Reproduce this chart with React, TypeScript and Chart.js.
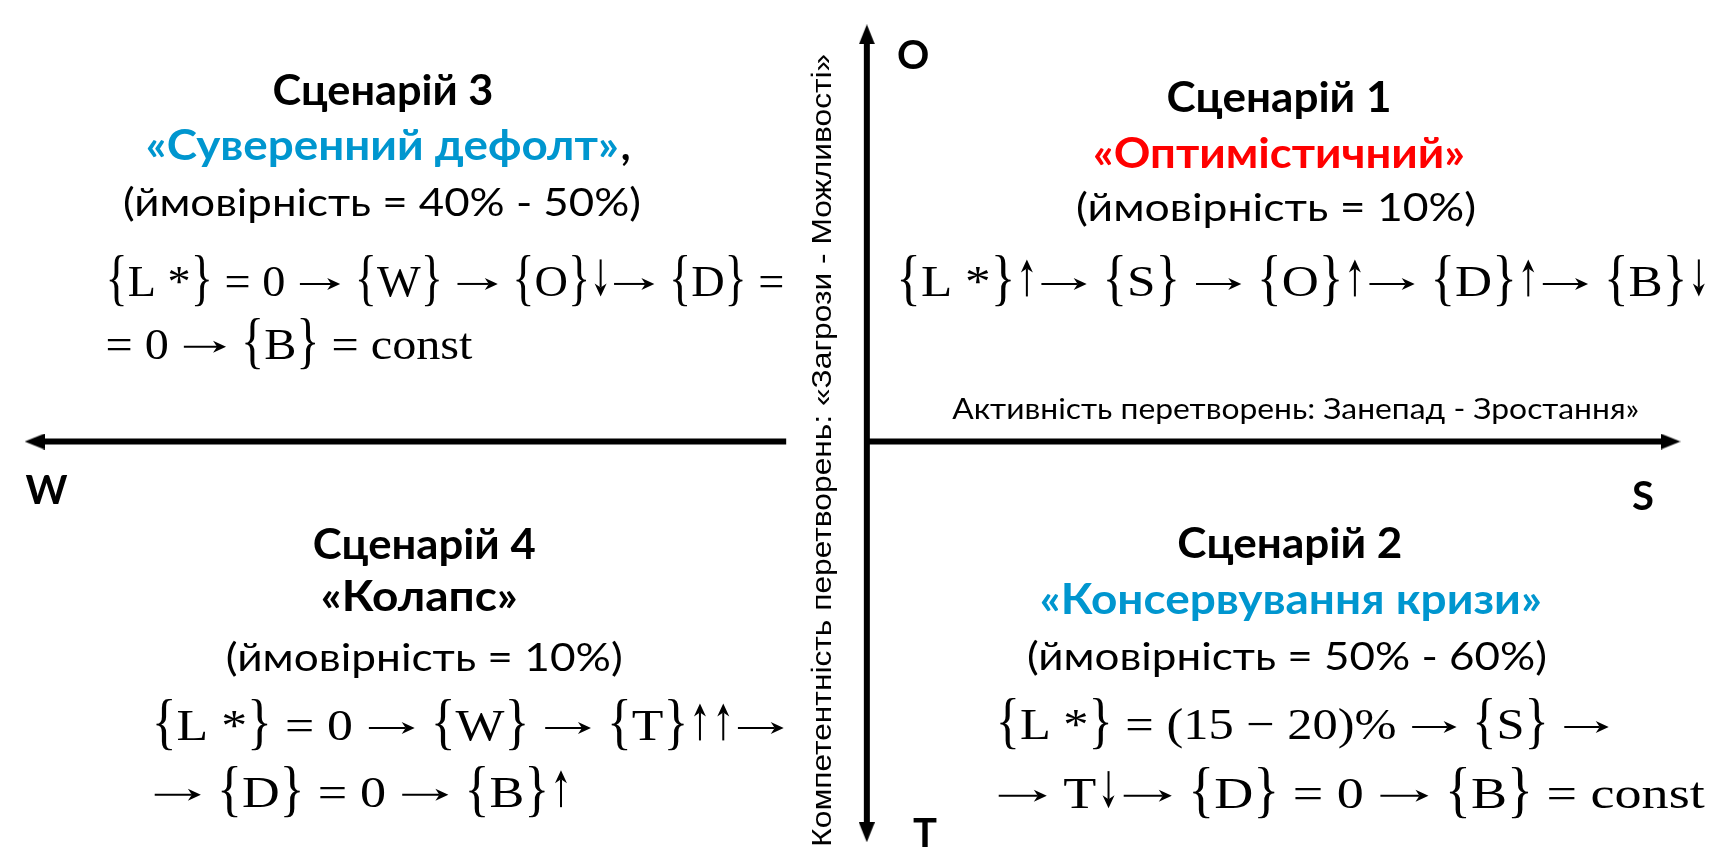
import React, { useEffect, useRef } from "react";
import { Chart, registerables } from "chart.js";

Chart.register(...registerables);

const W = 1716;
const H = 856;

// ---------- content ----------
const scenarioTitles = ["Сценарій 1", "Сценарій 2", "Сценарій 3", "Сценарій 4"];
const scenarioNames = ["«Оптимістичний»", "«Консервування кризи»", "«Суверенний дефолт»", "«Колапс»"];
const scenarioNameSuffix = ["", "", ",", ""];
const scenarioProbabilities = [
  "(ймовірність = 10%)",
  "(ймовірність = 50% - 60%)",
  "(ймовірність = 40% - 50%)",
  "(ймовірність = 10%)",
];
const scenarioFormulas = [
  ["{L *}↑→ {S} → {O}↑→ {D}↑→ {B}↓"],
  ["{L *} = (15 − 20)% → {S} →", "→ T↓→ {D} = 0 → {B} = const"],
  ["{L *} = 0 → {W} → {O}↓→ {D} =", "= 0 → {B} = const"],
  ["{L *} = 0 → {W} → {T}↑↑→", "→ {D} = 0 → {B}↑"],
];
const poleLabels = ["O", "S", "T", "W"];
const xAxisTitle = "Активність перетворень: Занепад - Зростання»";
const yAxisTitle = "Компетентність перетворень: «Загрози - Можливості»";

// ---------- styles ----------
const nameColors = ["#FF0000", "#0096CF", "#0096CF", "#000000"];
const SANS = 'Lato, "Open Sans", "Noto Sans", sans-serif';
const SERIF = '"Liberation Serif", "Times New Roman", serif';
const NARROW = '"Liberation Sans Narrow", "Liberation Sans", Arial, sans-serif';

// ---------- layout (diagram units = px) ----------
const axisSegments = [
  { pts: [[785, 442], [21, 442]], heads: [false, true], rot: [0, -90] },
  { pts: [[866, 442], [1684, 442]], heads: [false, true], rot: [0, 90] },
  { pts: [[867, 21], [867, 846]], heads: [true, true], rot: [0, 180] },
];
const blockLayout = [
  {
    title: { x: 1286, y: 85, w: 225 },
    name: { x: 1286, y: 143, w: 372, align: "center" },
    prob: { x: 1283, y: 200, w: 400 },
    f: [{ x: 897, y: 277, w: 814 }],
  },
  {
    title: { x: 1297, y: 546, w: 225 },
    name: { x: 1298, y: 604, w: 502, align: "center" },
    prob: { x: 1294, y: 664, w: 520 },
    f: [
      { x: 998, y: 735, w: 616 },
      { x: 998, y: 806, w: 709 },
    ],
  },
  {
    title: { x: 375, y: 78, w: 221 },
    name: { x: 134, y: 135, w: 473, align: "left" },
    prob: { x: 374, y: 194, w: 518 },
    f: [
      { x: 93, y: 277, w: 679 },
      { x: 93, y: 342, w: 367 },
    ],
  },
  {
    title: { x: 417, y: 547, w: 223 },
    name: { x: 412, y: 601, w: 197, align: "center" },
    prob: { x: 417, y: 665, w: 397 },
    f: [
      { x: 140, y: 736, w: 635 },
      { x: 140, y: 805, w: 421 },
    ],
  },
];
const polePos = [
  [914, 42],
  [1656, 498],
  [926, 846],
  [33, 492],
];
const xTitlePos = { x: 1303, y: 408, w: 687 };
const yTitlePos = { x: 821, y: 451, w: 793 };

function makeHead(): HTMLCanvasElement {
  const c = document.createElement("canvas");
  c.width = 16;
  c.height = 20;
  const g = c.getContext("2d")!;
  g.fillStyle = "#000";
  g.beginPath();
  g.moveTo(8, 0);
  g.lineTo(16, 20);
  g.lineTo(0, 20);
  g.closePath();
  g.fill();
  return c;
}

function drawFitted(
  ctx: CanvasRenderingContext2D,
  text: string,
  ax: number,
  cy: number,
  width: number,
  font: string,
  color: string,
  align: string
) {
  ctx.save();
  ctx.font = font;
  ctx.fillStyle = color;
  ctx.textAlign = "left";
  ctx.textBaseline = "alphabetic";
  const m = ctx.measureText(text);
  const cap = ctx.measureText("Н").actualBoundingBoxAscent;
  const sx = width / m.width;
  const left = align === "center" ? ax - width / 2 : ax;
  ctx.translate(left, cy + cap / 2);
  ctx.scale(sx, 1);
  ctx.fillText(text, 0, 0);
  ctx.restore();
  return left + width;
}

const isBrace = (c: string) => c === "{" || c === "}";
const isArrow = (c: string) => c === "→" || c === "↑" || c === "↓";

// thin math-style arrow from (x0,y0) to tip (x1,y1)
function mathArrow(ctx: CanvasRenderingContext2D, x0: number, y0: number, x1: number, y1: number) {
  const ang = Math.atan2(y1 - y0, x1 - x0);
  const len = 13;
  const half = 6;
  const notch = 4;
  const cos = Math.cos(ang);
  const sin = Math.sin(ang);
  ctx.save();
  ctx.strokeStyle = "#000";
  ctx.fillStyle = "#000";
  ctx.lineWidth = 2;
  ctx.beginPath();
  ctx.moveTo(x0, y0);
  ctx.lineTo(x1 - cos * (len - notch), y1 - sin * (len - notch));
  ctx.stroke();
  const bx = x1 - cos * len;
  const by = y1 - sin * len;
  ctx.beginPath();
  ctx.moveTo(x1, y1);
  ctx.lineTo(bx - sin * half, by + cos * half);
  ctx.lineTo(x1 - cos * (len - notch), y1 - sin * (len - notch));
  ctx.lineTo(bx + sin * half, by - cos * half);
  ctx.closePath();
  ctx.fill();
  ctx.restore();
}

function drawFormula(
  ctx: CanvasRenderingContext2D,
  text: string,
  left: number,
  cy: number,
  width: number,
  size: number
) {
  ctx.save();
  const serifFont = `${size}px ${SERIF}`;
  ctx.font = serifFont;
  ctx.fillStyle = "#000";
  ctx.textAlign = "left";
  ctx.textBaseline = "alphabetic";
  const tokens: string[] = [];
  let cur = "";
  for (const ch of text) {
    if (isBrace(ch) || isArrow(ch)) {
      if (cur) tokens.push(cur);
      tokens.push(ch);
      cur = "";
    } else cur += ch;
  }
  if (cur) tokens.push(cur);
  const widths = tokens.map((t) => {
    if (t === "→") return size * 1.0;
    if (t === "↑" || t === "↓") return size * 0.45;
    return ctx.measureText(t).width;
  });
  const total = widths.reduce((a, b) => a + b, 0);
  const sx = width / total;
  const cap = ctx.measureText("L").actualBoundingBoxAscent;
  const bm = ctx.measureText("{");
  const bAsc = bm.actualBoundingBoxAscent;
  const bDesc = bm.actualBoundingBoxDescent;
  const k = (1.8 * cap) / (bAsc + bDesc);
  let x = left;
  tokens.forEach((t, i) => {
    const w = widths[i] * sx;
    if (isBrace(t)) {
      ctx.save();
      ctx.translate(x, cy);
      ctx.scale(sx, k);
      ctx.fillText(t, 0, (bAsc - bDesc) / 2);
      ctx.restore();
    } else if (t === "→") {
      const ay = cy + 2;
      mathArrow(ctx, x + 3, ay, x + w - 3, ay);
    } else if (t === "↑") {
      const ax = x + w / 2;
      mathArrow(ctx, ax, cy + cap / 2, ax, cy - cap / 2 - 8);
    } else if (t === "↓") {
      const ax = x + w / 2;
      mathArrow(ctx, ax, cy - cap / 2 - 8, ax, cy + cap / 2);
    } else {
      ctx.save();
      ctx.translate(x, cy + cap / 2);
      ctx.scale(sx, 1);
      ctx.fillText(t, 0, 0);
      ctx.restore();
    }
    x += w;
  });
  ctx.restore();
}

export default function App() {
  const ref = useRef<HTMLCanvasElement | null>(null);

  useEffect(() => {
    if (!ref.current) return;
    const head = makeHead();

    const textPlugin = {
      id: "diagramText",
      afterDatasetsDraw(chart: any) {
        const ctx: CanvasRenderingContext2D = chart.ctx;
        const sx = chart.scales.x;
        const sy = chart.scales.y;
        const px = (v: number) => sx.getPixelForValue(v);
        const py = (v: number) => sy.getPixelForValue(v);

        blockLayout.forEach((b, i) => {
          drawFitted(ctx, scenarioTitles[i], px(b.title.x), py(b.title.y), b.title.w, `bold 42px ${SANS}`, "#000", "center");
          const end = drawFitted(ctx, scenarioNames[i], px(b.name.x), py(b.name.y), b.name.w, `bold 42px ${SANS}`, nameColors[i], b.name.align);
          if (scenarioNameSuffix[i]) {
            ctx.save();
            ctx.font = `bold 42px ${SANS}`;
            ctx.fillStyle = "#000";
            const cap = ctx.measureText("Н").actualBoundingBoxAscent;
            ctx.fillText(scenarioNameSuffix[i], end + 2, py(b.name.y) + cap / 2);
            ctx.restore();
          }
          drawFitted(ctx, scenarioProbabilities[i], px(b.prob.x), py(b.prob.y), b.prob.w, `38px ${SANS}`, "#000", "center");
          scenarioFormulas[i].forEach((line, j) => {
            const f = b.f[j];
            drawFormula(ctx, line, px(f.x), py(f.y), f.w, 45);
          });
        });

        poleLabels.forEach((p, i) => {
          ctx.save();
          ctx.font = `bold 40px ${SANS}`;
          ctx.fillStyle = "#000";
          ctx.textAlign = "center";
          const cap = ctx.measureText("Н").actualBoundingBoxAscent;
          ctx.fillText(p, px(polePos[i][0]), py(polePos[i][1]) + cap / 2);
          ctx.restore();
        });

        drawFitted(ctx, xAxisTitle, px(xTitlePos.x), py(xTitlePos.y), xTitlePos.w, `28px ${SANS}`, "#000", "center");

        ctx.save();
        ctx.translate(px(yTitlePos.x), py(yTitlePos.y));
        ctx.rotate(-Math.PI / 2);
        drawFitted(ctx, yAxisTitle, 0, 0, yTitlePos.w, `28px ${NARROW}`, "#000", "center");
        ctx.restore();
      },
    };

    const datasets = axisSegments.map((s) => ({
      data: s.pts.map((p) => ({ x: p[0], y: p[1] })),
      showLine: true,
      borderColor: "#000",
      backgroundColor: "#000",
      borderWidth: 6,
      borderCapStyle: "butt" as const,
      pointRadius: s.heads.map((h) => (h ? 8 : 0)),
      pointStyle: s.heads.map(() => head),
      pointRotation: s.rot,
      clip: false as any,
    }));

    const chart = new Chart(ref.current, {
      type: "scatter",
      data: { datasets },
      plugins: [textPlugin],
      options: {
        animation: false,
        responsive: false,
        maintainAspectRatio: false,
        devicePixelRatio: 1,
        events: [],
        layout: { padding: 0 },
        plugins: { legend: { display: false }, tooltip: { enabled: false } },
        scales: {
          x: { type: "linear", min: 0, max: W, display: false },
          y: { type: "linear", min: 0, max: H, reverse: true, display: false },
        },
      },
    });
    return () => chart.destroy();
  }, []);

  return (
    <div style={{ position: "fixed", left: 0, top: 0, width: W, height: H, background: "#fff" }}>
      <canvas ref={ref} width={W} height={H} style={{ display: "block", width: W, height: H }} />
    </div>
  );
}
